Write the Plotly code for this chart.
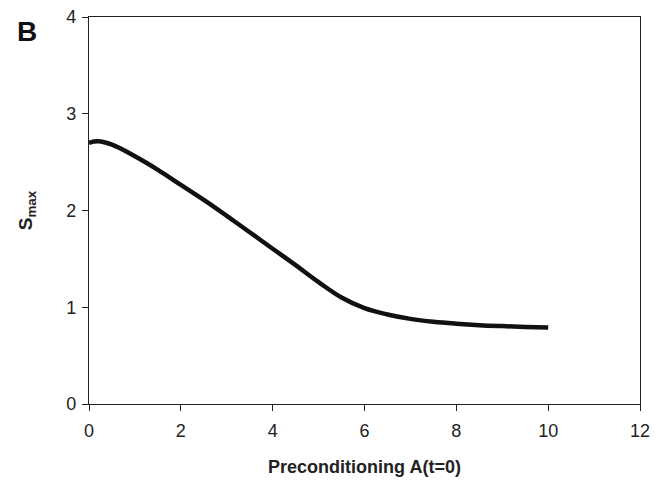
import plotly.graph_objects as go

x_vals = [0, 0.2, 0.5, 1, 1.5, 2, 2.5, 3, 3.5, 4, 4.5, 5, 5.5, 6, 6.5, 7, 7.5, 8, 8.5, 9, 9.5, 10]
s_max = [2.70, 2.715, 2.68, 2.56, 2.42, 2.265, 2.11, 1.945, 1.775, 1.605, 1.435, 1.26, 1.10, 0.99, 0.925, 0.88, 0.85, 0.83, 0.815, 0.805, 0.797, 0.79]
x_ticks = [0, 2, 4, 6, 8, 10, 12]
y_ticks = [0, 1, 2, 3, 4]

FONT = "Liberation Sans, Arial, sans-serif"

fig = go.Figure()
fig.add_trace(go.Scatter(
    x=x_vals, y=s_max, mode="lines",
    line=dict(color="#111111", width=4.5, shape="spline", smoothing=1.1),
    showlegend=False, hoverinfo="skip"))

axis_common = dict(
    showgrid=False, zeroline=False, showline=True, linecolor="#222222", linewidth=1.3,
    mirror=True, ticks="outside", ticklen=6, tickwidth=1.2, tickcolor="#222222",
    automargin=False,
    tickfont=dict(family=FONT, size=18, color="#222222"))

fig.update_layout(
    width=662, height=480,
    margin=dict(l=89, r=22, t=17, b=76),
    paper_bgcolor="white", plot_bgcolor="white",
    font=dict(family=FONT, color="#222222"),
    xaxis=dict(range=[0, 12], tickvals=x_ticks, ticktext=[str(v) for v in x_ticks],
               ticklabelstandoff=4,
               title=dict(text="<b>Preconditioning A(t=0)</b>", font=dict(family=FONT, size=18, color="#222222"), standoff=20),
               **axis_common),
    yaxis=dict(range=[0, 4], tickvals=y_ticks, ticktext=[str(v) for v in y_ticks],
               ticklabelstandoff=2,
               title=dict(text="<b>S<sub>max</sub></b>", font=dict(family=FONT, size=19, color="#222222"), standoff=28),
               **axis_common),
    annotations=[dict(text="<b>B</b>", xref="paper", yref="paper",
                      x=-(89 - 27) / 551, y=(404 - 32) / 387,
                      xanchor="center", yanchor="middle", showarrow=False,
                      font=dict(family=FONT, size=28, color="#111111"))],
)

fig.write_html("out.html", config={"displayModeBar": False},
               post_script="document.body.style.margin='0';document.body.style.overflow='hidden';")
